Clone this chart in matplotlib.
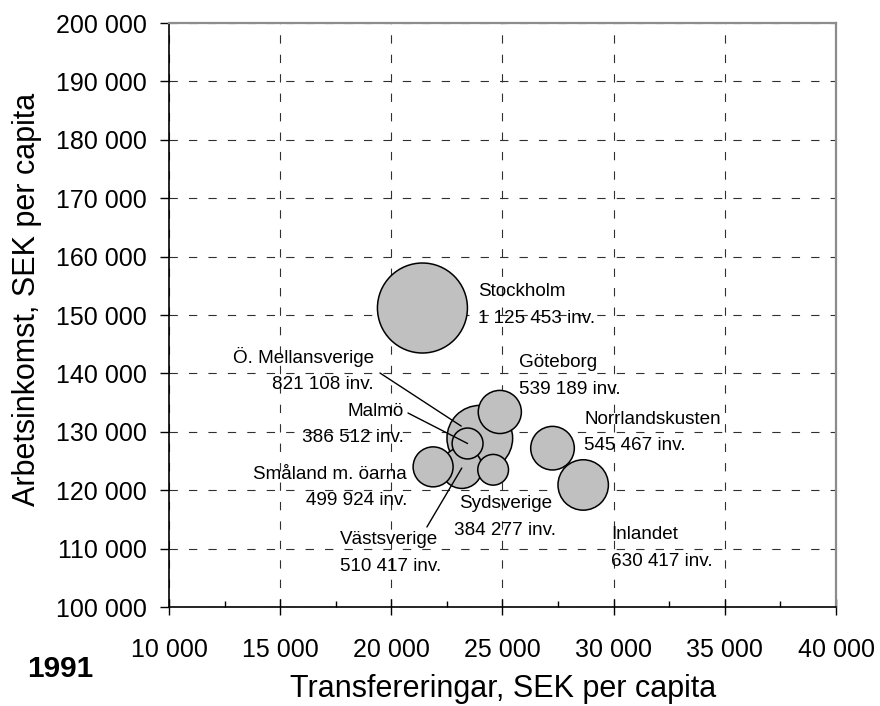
import matplotlib.pyplot as plt
from matplotlib.ticker import MultipleLocator, FuncFormatter

plt.rcParams["font.family"] = ["Liberation Sans", "DejaVu Sans"]

# ── DATA ─────────────────────────────────────────────

regions = ["Stockholm", "Ö. Mellansverige", "Göteborg", "Malmö", "Småland m. öarna",
           "Västsverige", "Sydsverige", "Norrlandskusten", "Inlandet"]
transfers = [21400, 23980, 24880, 23430, 21880, 23170, 24580, 27250, 28630]   # SEK per capita
income = [151200, 128900, 133400, 128000, 124000, 123800, 123500, 127200, 120900]  # SEK per capita
population = [1125453, 821108, 539189, 386512, 499924, 510417, 384277, 545467, 630417]

x_ticks = list(range(10000, 40001, 5000))
y_ticks = list(range(100000, 200001, 10000))

# label placement (data coords): x, y, alignment, leader start or None
label_pos = {
    "Stockholm": (23900, 151700, "left", None),
    "Göteborg": (25740, 139550, "left", None),
    "Norrlandskusten": (28670, 129880, "left", None),
    "Inlandet": (29880, 110100, "left", None),
    "Sydsverige": (25135, 115410, "center", None),
    "Ö. Mellansverige": (19220, 140580, "right", (19490, 140070)),
    "Malmö": (20570, 131250, "right", (20750, 133220)),
    "Småland m. öarna": (20705, 120460, "right", None),
    "Västsverige": (17690, 109250, "left", (21600, 113700)),
}
leader_shrink = {"Ö. Mellansverige": 16}


def space_thousands(v, pos=None):
    return f"{v:,.0f}".replace(",", " ")


# ── PLOT ─────────────────────────────────────────────

fig = plt.figure(figsize=(8.8, 7.06), dpi=100)
ax = fig.add_axes([0.192, 0.1402, 0.758, 0.8272])

# Excel draws the biggest bubbles first
order = sorted(range(len(regions)), key=lambda i: population[i], reverse=True)
max_d = 2 * 45 * 0.72  # diameter in points of the largest bubble
sizes = [(max_d * population[i] / max(population)) ** 2 for i in order]
ax.scatter([transfers[i] for i in order], [income[i] for i in order], s=sizes,
           color="#c0c0c0", edgecolor="black", linewidth=1.1, zorder=3)

for i, name in enumerate(regions):
    lx, ly, ha, start = label_pos[name]
    text = f"{name}\n{space_thousands(population[i])} inv."
    ax.text(lx, ly, text, ha=ha, va="center", multialignment=ha,
            fontsize=13.6, linespacing=1.72, zorder=4)
    if start is not None:
        ax.annotate("", xy=(transfers[i], income[i]), xytext=start,
                    arrowprops=dict(arrowstyle="-", color="black", lw=1.0,
                                    shrinkA=0, shrinkB=leader_shrink.get(name, 0)),
                    zorder=4)

# Axis setup
ax.set_xlim(10000, 40000)
ax.set_ylim(100000, 200000)
ax.set_xticks(x_ticks)
ax.set_yticks(y_ticks)
ax.xaxis.set_minor_locator(MultipleLocator(2500))
ax.xaxis.set_major_formatter(FuncFormatter(space_thousands))
ax.yaxis.set_major_formatter(FuncFormatter(space_thousands))
ax.tick_params(axis="x", which="major", direction="inout", length=11, width=1,
               labelsize=18, pad=16.8)
ax.tick_params(axis="x", which="minor", direction="in", length=4.3, width=1)
ax.tick_params(axis="y", which="major", direction="out", length=6.5, width=1,
               labelsize=18, pad=9.3)

ax.set_axisbelow(True)
ax.grid(True, which="major", color="#303030", linewidth=0.8,
        linestyle=(0, (7.5, 10)))

for side in ["left", "bottom"]:
    ax.spines[side].set_color("black")
    ax.spines[side].set_linewidth(1.2)
    ax.spines[side].set_zorder(5)
for side in ["top", "right"]:
    ax.spines[side].set_color("#8c8c8c")
    ax.spines[side].set_linewidth(1.6)
    ax.spines[side].set_zorder(5)

ax.set_xlabel("Transfereringar, SEK per capita", fontsize=22)
ax.set_ylabel("Arbetsinkomst, SEK per capita", fontsize=22)
ax.xaxis.set_label_coords(0.5007, -0.115)
ax.yaxis.set_label_coords(-0.191, 0.527)

fig.text(0.068, 0.0524, "1991", fontsize=21.5, fontweight="bold", ha="center", va="center")

fig.savefig("out.png", dpi=100)
